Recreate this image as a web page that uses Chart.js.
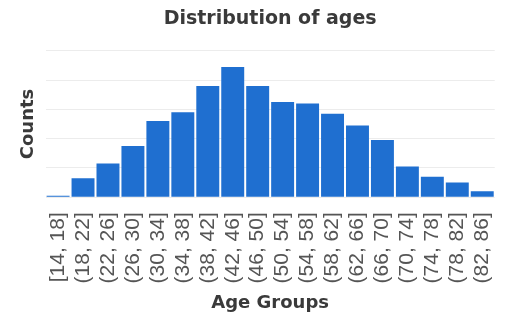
<!DOCTYPE html>
<html>
<head>
<meta charset="utf-8">
<script src="https://cdn.jsdelivr.net/npm/chart.js@4"></script>
<style>
  html, body { margin: 0; padding: 0; background: #fff; }
  #wrap { width: 515px; height: 316px; }
</style>
</head>
<body>
<div id="wrap"><canvas id="ages"></canvas></div>
<script>
const ageGroups = ['[14, 18]', '(18, 22]', '(22, 26]', '(26, 30]', '(30, 34]', '(34, 38]',
  '(38, 42]', '(42, 46]', '(46, 50]', '(50, 54]', '(54, 58]', '(58, 62]',
  '(62, 66]', '(66, 70]', '(70, 74]', '(74, 78]', '(78, 82]', '(82, 86]'];
const counts = [1, 13, 23, 35, 52, 58, 76, 89, 76, 65, 64, 57, 49, 39, 21, 14, 10, 4];

const axisTitleFont = { family: 'DejaVu Sans', size: 18, weight: 'bold' };

new Chart(document.getElementById('ages'), {
  type: 'bar',
  data: {
    labels: ageGroups,
    datasets: [{
      data: counts,
      backgroundColor: '#1f6fd0',
      barPercentage: 1,
      categoryPercentage: 0.92
    }]
  },
  options: {
    responsive: true,
    maintainAspectRatio: false,
    animation: false,
    layout: { padding: { left: 18, right: 12, top: 0, bottom: 2 } },
    plugins: {
      legend: { display: false },
      tooltip: { enabled: false },
      title: {
        display: true,
        fullSize: false,
        text: 'Distribution of ages',
        color: '#3a3a3a',
        font: { family: 'DejaVu Sans', size: 19, weight: 'bold' },
        padding: { top: 8, bottom: 20 }
      }
    },
    scales: {
      x: {
        grid: { display: false },
        border: { display: false },
        ticks: {
          color: '#555',
          font: { family: 'Liberation Sans', size: 21 },
          minRotation: 90,
          maxRotation: 90,
          autoSkip: false,
          padding: 7
        },
        title: {
          display: true,
          text: 'Age Groups',
          color: '#3a3a3a',
          font: axisTitleFont,
          padding: { top: 2, bottom: 0 }
        }
      },
      y: {
        min: 0,
        max: 100,
        ticks: { display: false, stepSize: 20 },
        grid: { color: '#ececec', drawTicks: false },
        border: { display: false },
        title: {
          display: true,
          text: 'Counts',
          color: '#3a3a3a',
          font: axisTitleFont,
          padding: { top: 0, bottom: 6 }
        }
      }
    }
  }
});
</script>
</body>
</html>
